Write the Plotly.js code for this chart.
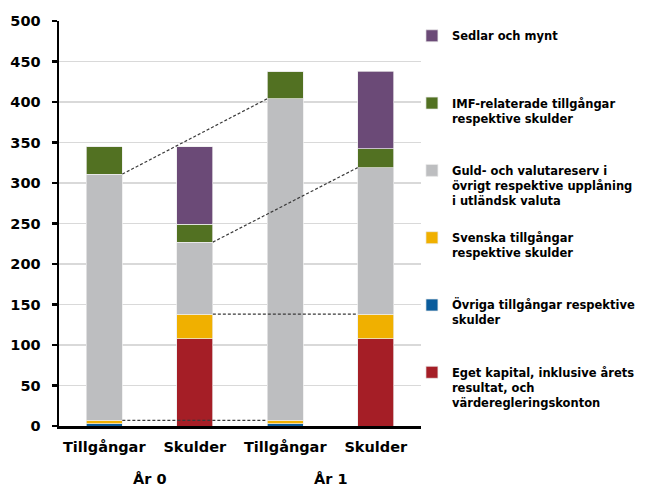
<!DOCTYPE html>
<html>
<head>
<meta charset="utf-8">
<script src="https://cdn.plot.ly/plotly-3.0.1.min.js"></script>
<style>html,body{margin:0;padding:0;background:#fff;}</style>
</head>
<body>
<div id="chart" style="width:654px;height:486px;"></div>
<script>
// Categories (inner and outer labels)
const barLabels = ["Tillgångar", "Skulder", "Tillgångar", "Skulder"];
const yearLabels = ["År 0", "År 1"];

// Series values, one per bar (billions)
const egetKapital = [0, 108, 0, 108];
const ovriga      = [3, 0, 3, 0];
const svenska     = [4, 30, 4, 30];
const guld        = [304, 89, 397, 181];
const imf         = [34, 22, 34, 23];
const sedlar      = [0, 96, 0, 96];

// Legend names
const nameEget    = "Eget kapital, inklusive årets<br>resultat, och<br>värderegleringskonton";
const nameOvriga  = "Övriga tillgångar respektive<br>skulder";
const nameSvenska = "Svenska tillgångar<br>respektive skulder";
const nameGuld    = "Guld- och valutareserv i<br>övrigt respektive upplåning<br>i utländsk valuta";
const nameImf     = "IMF-relaterade tillgångar<br>respektive skulder";
const nameSedlar  = "Sedlar och mynt";

// Colours
const colEget = "#a51e26", colOvriga = "#0a5c9c", colSvenska = "#f0b000",
      colGuld = "#bdbec0", colImf = "#527122", colSedlar = "#6b4a77";

const xs = barLabels.map((_, i) => i);
const barWidth = 0.4;
const FONT = "DejaVu Sans, sans-serif";

// pad legend labels to 4 lines so entries are evenly spaced
function pad(name) {
  const n = name.split("<br>").length;
  let s = name;
  for (let i = n; i < 4; i++) s += "<br>\u00a0";
  return s;
}

const series = [
  [nameEget, egetKapital, colEget],
  [nameOvriga, ovriga, colOvriga],
  [nameSvenska, svenska, colSvenska],
  [nameGuld, guld, colGuld],
  [nameImf, imf, colImf],
  [nameSedlar, sedlar, colSedlar]
];

const traces = series.map(([name, vals, col], k) => ({
  type: "bar",
  x: xs,
  y: vals,
  name: pad(name),
  legendgroup: "g" + k,
  legendrank: series.length - k,
  marker: {color: col, line: {color: "rgba(235,235,235,0.9)", width: 0.8}},
  width: barWidth,
  hoverinfo: "y+name"
}));

// cumulative tops for connector lines
function cum(idx, upto) {
  let s = 0;
  series.slice(0, upto + 1).forEach(([, v]) => { s += v[idx]; });
  return s;
}
const h = barWidth / 2;
const connectors = [
  [0, 2, 3],  // gray top, Tillgångar År0 -> År1
  [1, 3, 3],  // gray top, Skulder År0 -> År1
  [1, 3, 2],  // yellow top, Skulder
  [0, 2, 2]   // yellow top, Tillgångar
];
connectors.forEach(([a, b, lvl]) => {
  traces.push({
    type: "scatter", mode: "lines",
    x: [xs[a] + h, xs[b] - h],
    y: [cum(a, lvl), cum(b, lvl)],
    line: {color: "#3a3a3a", width: 1.2, dash: "3px,2px"},
    showlegend: false, hoverinfo: "skip"
  });
});

const layout = {
  width: 654, height: 486,
  margin: {l: 59, r: 233, t: 21, b: 60},
  paper_bgcolor: "#fff", plot_bgcolor: "#fff",
  barmode: "stack",
  font: {family: FONT, color: "#000", size: 14.5},
  showlegend: true,
  legend: {
    x: 0.975, xanchor: "left", y: 0.998, yanchor: "top",
    traceorder: "grouped", tracegroupgap: 4.5,
    valign: "top",
    font: {family: FONT, size: 11.5, color: "#000", weight: "bold"},
    bgcolor: "rgba(0,0,0,0)"
  },
  xaxis: {
    range: [-0.5, 3.5],
    tickvals: xs, ticktext: barLabels,
    tickfont: {family: FONT, size: 14.5, weight: "bold"},
    ticks: "", showgrid: false, zeroline: false,
    showline: true, linecolor: "#000", linewidth: 2.5,
    ticklabelstandoff: 6
  },
  yaxis: {
    range: [0, 500], dtick: 50,
    tickfont: {family: FONT, size: 14.5, weight: "bold"},
    ticks: "outside", ticklen: 5, tickwidth: 2.5, tickcolor: "#000",
    showline: true, linecolor: "#000", linewidth: 2.5,
    showgrid: true, gridcolor: "#d9d9d9", gridwidth: 1.5,
    zeroline: false, ticklabelstandoff: 8
  },
  annotations: yearLabels.map((t, i) => ({
    text: "<b>" + t + "</b>",
    x: xs[2 * i] + 0.5, xref: "x",
    y: -0.13, yref: "paper",
    xanchor: "center", yanchor: "middle",
    showarrow: false,
    font: {family: FONT, size: 14.5, color: "#000"}
  }))
};

Plotly.newPlot("chart", traces, layout, {displayModeBar: false, staticPlot: true});
</script>
</body>
</html>
